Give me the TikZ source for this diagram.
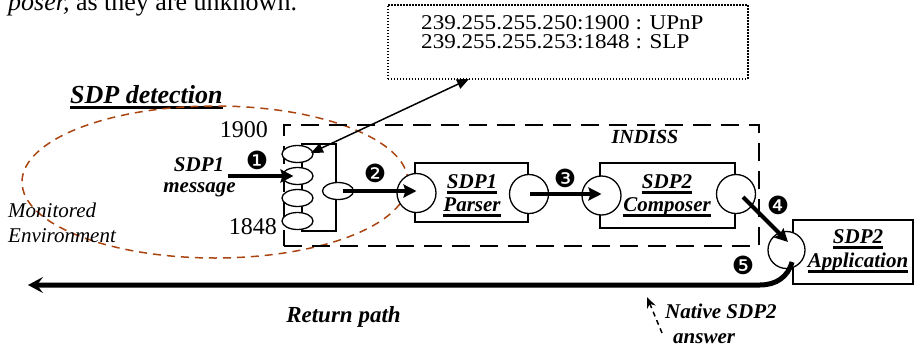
\documentclass[tikz,border=0pt]{standalone}
\usepackage{fontspec}
\setmainfont{Liberation Serif}
\newfontfamily\dingfont{DejaVu Sans}
\usetikzlibrary{shapes.geometric,arrows.meta}
\newcommand\myul[1]{\setbox0\hbox{#1}\rlap{\raisebox{-6pt}{\rule{\wd0}{2.6pt}}}\box0}
\definecolor{envbrown}{RGB}{170,68,16}
\begin{document}
\begin{tikzpicture}[x=1pt,y=-1pt,
  bi/.style={inner sep=0, font=\fontsize{21}{25}\selectfont\bfseries\itshape},
  port/.style={ellipse, draw, fill=white, line width=1.3pt, minimum width=31pt, minimum height=17pt, inner sep=0},
  socket/.style={circle, draw, fill=white, line width=1.3pt, minimum size=39pt, inner sep=0},
  box/.style={draw, line width=1.3pt, inner sep=0},
  flow/.style={line width=4pt, -{Stealth[length=13pt,width=13pt,inset=2pt]}},
  num/.style={font=\dingfont\fontsize{25}{27}\selectfont, inner sep=0}]
\useasboundingbox (0,0) rectangle (914,349);
% top text
\node[anchor=base west, inner sep=0, font=\fontsize{26}{30}\selectfont] (top) at (8,10) {\textit{poser,} as they are unknown.};
% ip box
\node[draw, dash pattern=on 1.5pt off 1.5pt, line width=1.5pt, minimum width=360pt, minimum height=74pt, anchor=north west, inner sep=0] (ipbox) at (387,4) {};
\node[anchor=base west, inner sep=0, font=\fontsize{21}{24}\selectfont] (ip1) at (421,29) {\scalebox{1.1}[1]{239.255.255.250:1900 : UPnP}};
\node[anchor=base west, inner sep=0, font=\fontsize{21}{24}\selectfont] (ip2) at (421,48) {\scalebox{1.1}[1]{239.255.255.253:1848 : SLP}};
% detection title
\node[anchor=base west, inner sep=0, font=\fontsize{26}{30}\selectfont\bfseries\itshape] (det) at (70,103) {\myul{SDP detection}};
% monitored environment
\node[ellipse, draw=envbrown, line width=1.5pt, dash pattern=on 8pt off 6pt, minimum width=386pt, minimum height=152pt, inner sep=0] (env) at (215,182) {};
% INDISS
\node[draw, line width=2.2pt, dash pattern=on 18pt off 10pt, minimum width=475pt, minimum height=121pt, anchor=north west, inner sep=0] (indiss) at (283,124) {};
\node[anchor=base, inner sep=0, font=\fontsize{20}{24}\selectfont\bfseries\itshape] (indlab) at (645,143) {INDISS};
% ports
\node[box, minimum width=34pt, minimum height=87pt] (ports) at (319,187.5) {};
\foreach \i/\yy in {1/154,2/176,3/198,4/221} \node[port] (p\i) at (297.5,\yy) {};
\node[port] (pr) at (338,191) {};
\node[anchor=base east, inner sep=0, font=\fontsize{24}{28}\selectfont] (l1900) at (268,137) {1900};
\node[anchor=base east, inner sep=0, font=\fontsize{24}{28}\selectfont] (l1848) at (277,234) {1848};
% parser
\node[box, minimum width=113pt, minimum height=59pt] (parser) at (471.5,192.5) {};
\node[socket] (pl) at (416.5,193) {};
\node[socket] (prr) at (529,194) {};
\node[bi, anchor=base] (pt1) at (472,188) {\myul{SDP1}};
\node[bi, anchor=base] (pt2) at (472,211) {\myul{Parser}};
% composer
\node[box, minimum width=135pt, minimum height=65pt] (comp) at (667.5,195.5) {};
\node[socket] (cl) at (601.5,195.5) {};
\node[socket] (cr) at (736,194) {};
\node[bi, anchor=base] (ct1) at (667,188) {\myul{SDP2}};
\node[bi, anchor=base] (ct2) at (667,211) {\myul{Composer}};
% application
\node[box, minimum width=120pt, minimum height=64pt] (app) at (853,252) {};
\node[socket, minimum size=37pt] (ac) at (786.5,250) {};
\node[bi, anchor=base] (at1) at (858,243) {\myul{SDP2}};
\node[bi, anchor=base] (at2) at (858,267) {\myul{Application}};
% labels
\node[bi, anchor=base] (s1) at (199,171) {SDP1};
\node[bi, anchor=base] (s2) at (199.5,192) {message};
\node[anchor=base west, inner sep=0, font=\fontsize{21}{25}\selectfont\itshape] (mon1) at (8,217) {Monitored};
\node[anchor=base west, inner sep=0, font=\fontsize{21}{25}\selectfont\itshape] (mon2) at (8,242) {Environment};
\node[anchor=base, inner sep=0, font=\fontsize{23}{27}\selectfont\bfseries\itshape] (ret) at (343.5,322) {Return path};
\node[bi, anchor=base west] (nat1) at (665,318) {Native SDP2};
\node[bi, anchor=base west] (nat2) at (673,343) {answer};
% numbers
\node[num] (n1) at (257,160) {❶};
\node[num] (n2) at (375,173) {❷};
\node[num] (n3) at (565,178) {❸};
\node[num] (n4) at (778,205) {❹};
\node[num] (n5) at (743,265) {❺};
% connectors
\coordinate (ipA) at (469,79);
\draw[line width=1.5pt, {Triangle[length=12pt,width=10pt]}-{Triangle[length=12pt,width=10pt]}] (ipA) -- ([shift={(13.5,-1)}]p1.center);
\coordinate (m1) at (228,176);
\draw[flow] (m1) -- ([xshift=-4pt]p2.center);
\draw[flow] ([xshift=5pt]pr.center) -- (pr.center -| pl.center);
\draw[flow] ([xshift=1pt]prr.center) -- (prr.center -| cl.center);
\draw[flow] ([shift={(7,3)}]cr.center) -- ([shift={(1.5,-8)}]ac.center);
\coordinate (rend) at (28,285);
\draw[line width=5pt, -{Stealth[length=15pt,width=16pt,inset=6pt]}] ([shift={(5.5,12)}]ac.center) .. controls (788,277) and (776,285) .. (760,285) -- (rend);
\coordinate (ans) at (662,333);
\coordinate (anst) at (647,297);
\draw[line width=1.5pt, dash pattern=on 5pt off 4pt, -{Stealth[length=11pt,width=9pt]}] (ans) -- (anst);
\end{tikzpicture}
\end{document}
